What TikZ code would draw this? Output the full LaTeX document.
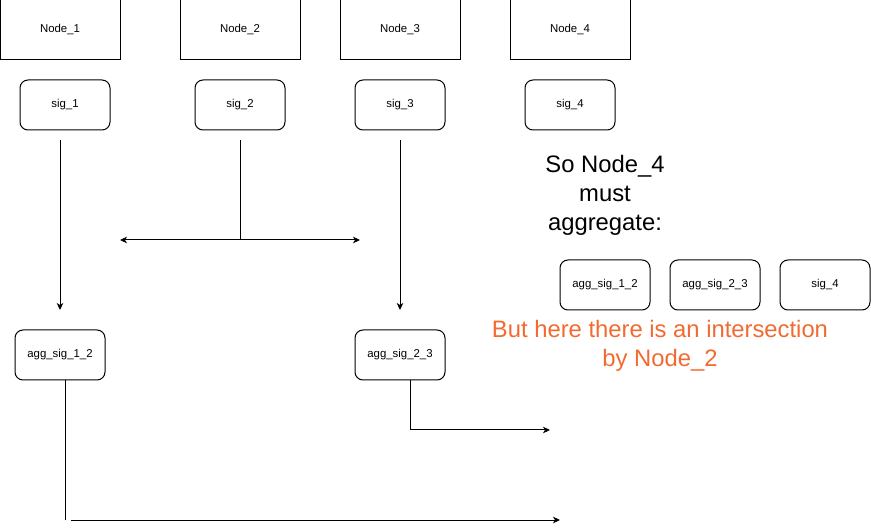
\documentclass[tikz,border=0pt]{standalone}
\usepackage{fontspec}
\setmainfont{Liberation Sans}
\usepackage{tikz}
\usetikzlibrary{positioning, arrows.meta}
\definecolor{warn}{RGB}{242,106,48}
\tikzset{
  peer/.style={draw, minimum width=120pt, minimum height=60pt, inner sep=0pt, outer sep=0pt, font=\fontsize{11.4}{13}\selectfont},
  sigbox/.style={draw, rounded corners=8pt, minimum width=90pt, minimum height=50pt, inner sep=0pt, outer sep=0pt, font=\fontsize{11.4}{13}\selectfont},
  note/.style={align=center, inner sep=0pt, font=\fontsize{23.8}{29}\selectfont},
  flow/.style={-{Stealth[length=7pt, width=6.5pt, inset=2pt]}},
}

\begin{document}
\begin{tikzpicture}[x=1pt, y=-1pt, line width=1pt]
\useasboundingbox (0,0) rectangle (871,529);
\node[peer] (N1) at (60,30) {Node\_1};
\node[peer, right = 60pt of N1] (N2) {Node\_2};
\node[peer, right = 40pt of N2] (N3) {Node\_3};
\node[peer, right = 50pt of N3] (N4) {Node\_4};
\node[sigbox] (S1) at (65,105) {sig\_1};
\node[sigbox, below = 20pt of N2] (S2) {sig\_2};
\node[sigbox, below = 20pt of N3] (S3) {sig\_3};
\node[sigbox, below = 20pt of N4] (S4) {sig\_4};
\node[sigbox] (A12) at (60,355) {agg\_sig\_1\_2};
\node[sigbox, below = 200pt of S3] (A23) {agg\_sig\_2\_3};
\node[note] (Q) at (605,195) {So Node\_4\\must\\aggregate:};
\node[sigbox] (R1) at (605,285) {agg\_sig\_1\_2};
\node[sigbox, right = 20pt of R1] (R2) {agg\_sig\_2\_3};
\node[sigbox, right = 20pt of R2] (R3) {sig\_4};
\node[note, text=warn] (W) at (660,345.5) {But here there is an intersection\\by Node\_2};
\coordinate (s1top) at (60,140);
\coordinate (s1end) at (60,310);
\coordinate (s2top) at (240,140);
\coordinate (s2mid) at (240,240);
\coordinate (s2left) at (120,240);
\coordinate (s2right) at (360,240);
\coordinate (s3top) at (400,140);
\coordinate (s3end) at (400,310);
\coordinate (a12low) at (65,520);
\coordinate (a12start) at (71,520);
\coordinate (a12end) at (560,520);
\coordinate (a23end) at (550,430);
\draw[flow] (s1top) -- (s1end);
\draw (s2top) -- (s2mid);
\draw[flow] (s2mid) -- (s2left);
\draw[flow] (s2mid) -- (s2right);
\draw[flow] (s3top) -- (s3end);
\draw ([xshift=5pt]A12.south) -- (a12low);
\draw[flow] (a12start) -- (a12end);
\draw[flow] ([xshift=10pt]A23.south) |- (a23end);
\end{tikzpicture}
\end{document}
